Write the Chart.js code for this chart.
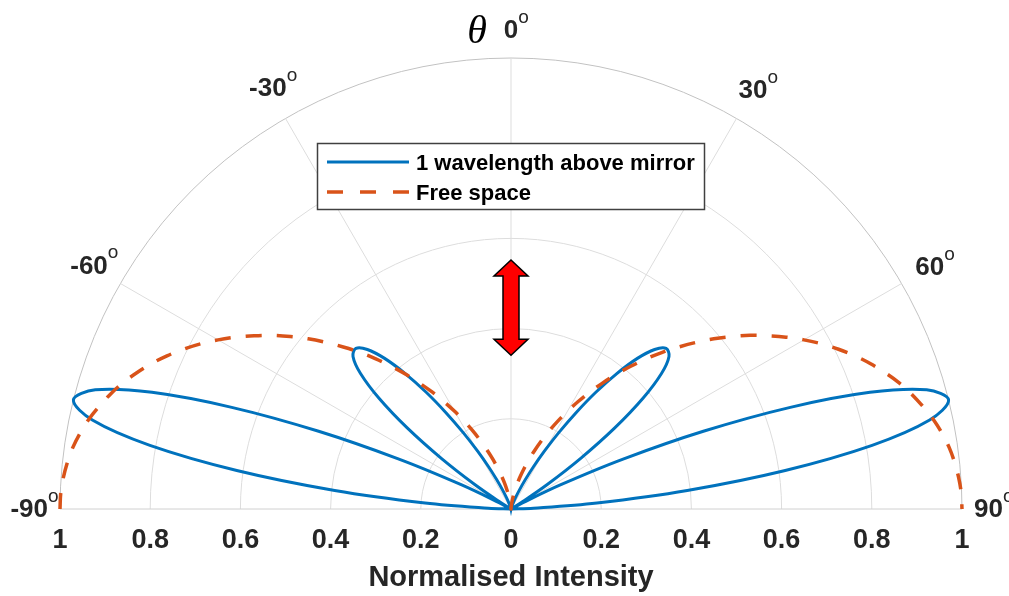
<!DOCTYPE html>
<html>
<head>
<meta charset="utf-8">
<title>Dipole radiation pattern</title>
<script src="https://cdn.jsdelivr.net/npm/chart.js@4.4.0/dist/chart.umd.min.js"></script>
<style>
    html, body { margin: 0; padding: 0; background: #ffffff; }
    #wrap { width: 1009px; height: 596px; }
</style>
</head>
<body>
<div id="wrap"><canvas id="patternChart" width="1009" height="596"></canvas></div>
<script>
// polar angle from the mirror normal, degrees
const angles = [
    -90, -88, -86, -84, -82, -80, -78, -76, -74, -72, -70, -68, -66, -64, -62, -60,
    -58, -56, -54, -52, -50, -48, -46, -44, -42, -40, -38, -36, -34, -32, -30,
    -28, -26, -24, -22, -20, -18, -16, -14, -12, -10, -8, -6, -4, -2,
    0, 2, 4, 6, 8, 10, 12, 14, 16, 18, 20, 22, 24, 26, 28, 30,
    32, 34, 36, 38, 40, 42, 44, 46, 48, 50, 52, 54, 56, 58, 60,
    62, 64, 66, 68, 70, 72, 74, 76, 78, 80, 82, 84, 86, 88, 90
];

// normalised intensity, dipole one wavelength above the mirror
const mirrorIntensity = [
    0, 0.050, 0.191, 0.393, 0.614, 0.813, 0.949, 1.000, 0.959, 0.837, 0.659, 0.460, 0.272, 0.123, 0.030, 0,
    0.027, 0.097, 0.191, 0.292, 0.382, 0.449, 0.487, 0.495, 0.476, 0.436, 0.381, 0.320, 0.257, 0.199, 0.148,
    0.106, 0.072, 0.047, 0.029, 0.017, 0.009, 0.005, 0.002, 0.001, 0, 0, 0, 0, 0,
    0, 0, 0, 0, 0, 0, 0.001, 0.002, 0.005, 0.009, 0.017, 0.029, 0.047, 0.072, 0.106, 0.148,
    0.199, 0.257, 0.320, 0.381, 0.436, 0.476, 0.495, 0.487, 0.449, 0.382, 0.292, 0.191, 0.097, 0.027, 0,
    0.030, 0.123, 0.272, 0.460, 0.659, 0.837, 0.959, 1.000, 0.949, 0.813, 0.614, 0.393, 0.191, 0.050, 0
];

// normalised intensity, same dipole in free space
const freeSpaceIntensity = [
    1.000, 0.999, 0.995, 0.989, 0.981, 0.970, 0.957, 0.941, 0.924, 0.905, 0.883, 0.860, 0.835, 0.808, 0.780, 0.750,
    0.719, 0.687, 0.655, 0.621, 0.587, 0.552, 0.517, 0.483, 0.448, 0.413, 0.379, 0.345, 0.313, 0.281, 0.250,
    0.220, 0.192, 0.165, 0.140, 0.117, 0.095, 0.076, 0.059, 0.043, 0.030, 0.019, 0.011, 0.005, 0.001,
    0, 0.001, 0.005, 0.011, 0.019, 0.030, 0.043, 0.059, 0.076, 0.095, 0.117, 0.140, 0.165, 0.192, 0.220, 0.250,
    0.281, 0.313, 0.345, 0.379, 0.413, 0.448, 0.483, 0.517, 0.552, 0.587, 0.621, 0.655, 0.687, 0.719, 0.750,
    0.780, 0.808, 0.835, 0.860, 0.883, 0.905, 0.924, 0.941, 0.957, 0.970, 0.981, 0.989, 0.995, 0.999, 1.000
];

const seriesLabels = ['1 wavelength above mirror', 'Free space'];
const seriesColors = ['#0072BD', '#D95319'];

// axis ticks
const intensityTicks = [-1, -0.8, -0.6, -0.4, -0.2, 0, 0.2, 0.4, 0.6, 0.8, 1];
const ringTicks = [0.2, 0.4, 0.6, 0.8, 1];
const angleTicks = [-90, -60, -30, 0, 30, 60, 90];

const FONT = '"Liberation Sans", Arial, Helvetica, sans-serif';
const TEXT = '#262626';

// polar (angle, r) -> plane point, angle measured from the vertical
function toXY(theta, r) {
    return theta.map((a, i) => {
        const rad = a * Math.PI / 180;
        return { x: r[i] * Math.sin(rad), y: r[i] * Math.cos(rad) };
    });
}

function polarFrame(chart) {
    const { x, y } = chart.scales;
    const cx = x.getPixelForValue(0);
    const cy = y.getPixelForValue(0);
    const unit = x.getPixelForValue(1) - cx;
    return { cx, cy, unit };
}

// half-circle rings and spokes
const polarGrid = {
    id: 'polarGrid',
    beforeDatasetsDraw(chart) {
        const { ctx } = chart;
        const { cx, cy, unit } = polarFrame(chart);
        ctx.save();
        ctx.lineWidth = 1;
        ringTicks.forEach(r => {
            ctx.strokeStyle = r === 1 ? '#c2c2c2' : '#dddddd';
            ctx.beginPath();
            ctx.arc(cx, cy, r * unit, Math.PI, 2 * Math.PI);
            ctx.stroke();
        });
        angleTicks.forEach(a => {
            const rad = a * Math.PI / 180;
            ctx.strokeStyle = Math.abs(a) === 90 ? '#d0d0d0' : '#dddddd';
            ctx.beginPath();
            ctx.moveTo(cx, cy);
            ctx.lineTo(cx + unit * Math.sin(rad), cy - unit * Math.cos(rad));
            ctx.stroke();
        });
        ctx.restore();
    }
};

// legend box and dipole arrow
const overlay = {
    id: 'overlay',
    afterDatasetsDraw(chart) {
        const { ctx } = chart;
        const { cx } = polarFrame(chart);
        const y = chart.scales.y;

        // dipole arrow
        const top = y.getPixelForValue(0.552);
        const bot = y.getPixelForValue(0.341);
        const head = 16, hw = 17, sw = 8;
        ctx.save();
        ctx.beginPath();
        ctx.moveTo(cx, top);
        ctx.lineTo(cx + hw, top + head);
        ctx.lineTo(cx + sw, top + head);
        ctx.lineTo(cx + sw, bot - head);
        ctx.lineTo(cx + hw, bot - head);
        ctx.lineTo(cx, bot);
        ctx.lineTo(cx - hw, bot - head);
        ctx.lineTo(cx - sw, bot - head);
        ctx.lineTo(cx - sw, top + head);
        ctx.lineTo(cx - hw, top + head);
        ctx.closePath();
        ctx.fillStyle = '#ff0000';
        ctx.fill();
        ctx.lineWidth = 1.5;
        ctx.lineJoin = 'miter';
        ctx.strokeStyle = '#000000';
        ctx.stroke();

        // legend
        const lx = 317.5, ly = 143.5, lw = 387, lh = 66;
        ctx.fillStyle = '#ffffff';
        ctx.fillRect(lx, ly, lw, lh);
        ctx.lineWidth = 1.5;
        ctx.strokeStyle = '#404040';
        ctx.strokeRect(lx, ly, lw, lh);

        const rows = [162, 192];
        ctx.lineCap = 'butt';
        ctx.lineWidth = 3;
        ctx.strokeStyle = seriesColors[0];
        ctx.beginPath();
        ctx.moveTo(327, rows[0]);
        ctx.lineTo(409, rows[0]);
        ctx.stroke();

        ctx.lineWidth = 3.5;
        ctx.strokeStyle = seriesColors[1];
        ctx.setLineDash([16, 17]);
        ctx.beginPath();
        ctx.moveTo(327, rows[1]);
        ctx.lineTo(409, rows[1]);
        ctx.stroke();
        ctx.setLineDash([]);

        ctx.fillStyle = '#000000';
        ctx.font = 'bold 22px ' + FONT;
        ctx.textAlign = 'left';
        ctx.textBaseline = 'alphabetic';
        ctx.fillText(seriesLabels[0], 416, 170);
        ctx.fillText(seriesLabels[1], 416, 200);
        ctx.restore();
    },

    // angle labels round the rim: each number's box sits just outside the outer ring
    afterDraw(chart) {
        const { ctx } = chart;
        const { cx, cy, unit } = polarFrame(chart);
        const gap = 12, halfH = 16;
        ctx.save();
        angleTicks.forEach(a => {
            const rad = a * Math.PI / 180;
            const num = String(a);
            ctx.font = 'bold 26px ' + FONT;
            const w = ctx.measureText(num).width;
            const rl = unit + gap + Math.abs(w / 2 * Math.sin(rad)) + Math.abs(halfH * Math.cos(rad));
            const px = cx + rl * Math.sin(rad);
            const py = cy - rl * Math.cos(rad) + 1;

            ctx.fillStyle = TEXT;
            ctx.textAlign = 'center';
            ctx.textBaseline = 'middle';
            ctx.fillText(num, px, py);
            ctx.font = '19px ' + FONT;
            ctx.textAlign = 'left';
            ctx.textBaseline = 'alphabetic';
            ctx.fillText('o', px + w / 2, py - 8);
        });

        ctx.fillStyle = '#000000';
        ctx.font = 'italic 40px "Liberation Serif", "Times New Roman", serif';
        ctx.textAlign = 'center';
        ctx.textBaseline = 'alphabetic';
        ctx.fillText('\u03B8', cx - 34, 43);
        ctx.restore();
    }
};

const ctx = document.getElementById('patternChart').getContext('2d');

new Chart(ctx, {
    type: 'scatter',
    data: {
        datasets: [
            {
                label: seriesLabels[0],
                data: toXY(angles, mirrorIntensity),
                showLine: true,
                borderColor: seriesColors[0],
                borderWidth: 3,
                pointRadius: 0,
                tension: 0.35,
                clip: 10,
                order: 1
            },
            {
                label: seriesLabels[1],
                data: toXY(angles, freeSpaceIntensity),
                showLine: true,
                borderColor: seriesColors[1],
                borderWidth: 3.5,
                borderDash: [16, 15],
                pointRadius: 0,
                tension: 0.35,
                clip: 10,
                order: 0
            }
        ]
    },
    options: {
        responsive: false,
        animation: false,
        layout: {
            padding: { left: 60, right: 47, top: 58, bottom: 0 }
        },
        plugins: {
            legend: { display: false },
            tooltip: { enabled: false }
        },
        scales: {
            x: {
                type: 'linear',
                min: -1,
                max: 1,
                afterBuildTicks: scale => {
                    scale.ticks = intensityTicks.map(v => ({ value: v }));
                },
                afterFit: scale => {
                    scale.height = 87;
                },
                grid: { display: false, drawTicks: false },
                border: { display: false },
                ticks: {
                    autoSkip: false,
                    maxRotation: 0,
                    padding: 15,
                    color: TEXT,
                    font: { family: FONT, size: 27, weight: 'bold' },
                    callback: v => String(Math.abs(v))
                },
                title: {
                    display: true,
                    text: 'Normalised Intensity',
                    color: TEXT,
                    font: { family: FONT, size: 29, weight: 'bold' },
                    padding: { top: 0, bottom: 1 }
                }
            },
            y: {
                type: 'linear',
                min: 0,
                max: 1,
                display: false
            }
        }
    },
    plugins: [polarGrid, overlay]
});
</script>
</body>
</html>
